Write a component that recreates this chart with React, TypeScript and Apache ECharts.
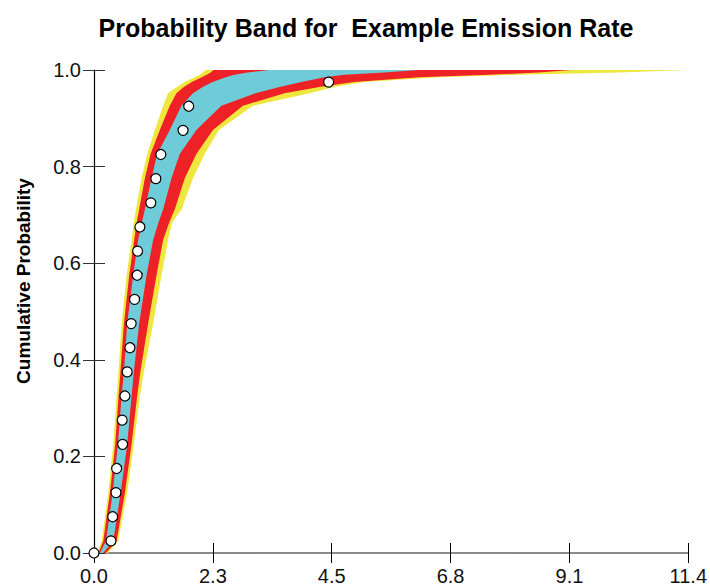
import React, { useEffect, useRef } from "react";
import * as echarts from "echarts";

// Cumulative probability levels used by the band boundaries
const bandProb = [0, 0.025, 0.125, 0.225, 0.325, 0.375, 0.475, 0.575, 0.648, 0.685, 0.711, 0.776, 0.826, 0.876, 0.926, 0.952, 0.965, 0.975, 0.985, 0.99, 0.995, 1.0];

// Band boundaries (emission rate at each probability level)
const yellowLeft = [0.057, 0.147, 0.274, 0.369, 0.434, 0.469, 0.530, 0.625, 0.721, 0.765, 0.803, 0.912, 1.020, 1.167, 1.326, 1.421, 1.588, 1.741, 1.932, 2.028, 2.085, 2.142];
const redLeft = [0.086, 0.178, 0.306, 0.407, 0.472, 0.507, 0.574, 0.675, 0.771, 0.819, 0.866, 0.976, 1.085, 1.262, 1.454, 1.582, 1.722, 1.875, 2.066, 2.161, 2.238, 2.295];
const cyanLeft = [0.115, 0.230, 0.358, 0.459, 0.530, 0.574, 0.637, 0.752, 0.847, 0.918, 0.976, 1.104, 1.211, 1.454, 1.678, 1.899, 2.085, 2.276, 2.525, 2.697, 2.946, 3.366];
const cyanRight = [0.172, 0.369, 0.511, 0.637, 0.721, 0.765, 0.866, 1.008, 1.134, 1.238, 1.326, 1.486, 1.645, 1.964, 2.443, 3.099, 3.558, 3.979, 4.418, 4.801, 5.566, 6.236];
const redRight = [0.230, 0.434, 0.593, 0.721, 0.828, 0.889, 1.039, 1.199, 1.326, 1.444, 1.549, 1.741, 1.964, 2.282, 2.856, 3.654, 4.323, 4.992, 6.236, 7.575, 8.531, 9.162];
const yellowRight = [0.268, 0.465, 0.637, 0.765, 0.880, 0.956, 1.134, 1.295, 1.421, 1.500, 1.680, 1.899, 2.123, 2.397, 3.047, 4.132, 4.610, 5.184, 6.618, 8.149, 10.061, 11.4];

// Observed points
const obsRate = [0, 0.325, 0.358, 0.421, 0.434, 0.549, 0.541, 0.593, 0.637, 0.689, 0.713, 0.778, 0.828, 0.836, 0.880, 1.090, 1.186, 1.282, 1.708, 1.817, 4.501];
const obsProb = [0, 0.025, 0.075, 0.125, 0.175, 0.225, 0.275, 0.325, 0.375, 0.425, 0.475, 0.525, 0.575, 0.625, 0.675, 0.725, 0.775, 0.825, 0.875, 0.925, 0.975];

const xTickLabels = ["0.0", "2.3", "4.5", "6.8", "9.1", "11.4"];
const yTickLabels = ["0.0", "0.2", "0.4", "0.6", "0.8", "1.0"];

const X_MAX = 11.4;
const X_INTERVAL = 2.28;
const FONT = "'Liberation Sans', Arial, Helvetica, sans-serif";

function bandSeries(name: string, left: number[], right: number[], color: string, z: number) {
  return {
    type: "custom",
    name,
    coordinateSystem: "cartesian2d",
    xAxisIndex: 0,
    yAxisIndex: 0,
    silent: true,
    z,
    data: [[0, 0]],
    renderItem: (_params: any, api: any) => {
      const pts: number[][] = [];
      for (let i = 0; i < bandProb.length; i++) pts.push(api.coord([left[i], bandProb[i]]));
      for (let i = bandProb.length - 1; i >= 0; i--) pts.push(api.coord([right[i], bandProb[i]]));
      return { type: "polygon", shape: { points: pts }, style: { fill: color } };
    },
  };
}

export default function App() {
  const ref = useRef<HTMLDivElement>(null);
  useEffect(() => {
    if (!ref.current) return;
    const chart = echarts.init(ref.current, undefined, { renderer: "svg" });
    const xBase = {
      type: "value",
      min: 0,
      max: X_MAX,
      interval: X_INTERVAL,
      splitLine: { show: false },
    };
    const yBase = {
      type: "value",
      min: 0,
      max: 1,
      interval: 0.2,
      splitLine: { show: false },
    };
    chart.setOption({
      animation: false,
      backgroundColor: "#ffffff",
      grid: { left: 94, right: 20, top: 70, bottom: 33, containLabel: false },
      graphic: [
        {
          type: "text",
          x: 366,
          y: 27.5,
          style: {
            text: "Probability Band for  Example Emission Rate",
            font: `bold 25px ${FONT}`,
            fill: "#000",
            align: "center",
            verticalAlign: "middle",
          },
        },
        {
          type: "text",
          x: 23,
          y: 281,
          rotation: Math.PI / 2,
          style: {
            text: "Cumulative Probability",
            font: `bold 19px ${FONT}`,
            fill: "#000",
            align: "center",
            verticalAlign: "middle",
          },
        },
      ],
      xAxis: [
        {
          ...xBase,
          position: "bottom",
          axisLine: { show: true, lineStyle: { color: "#666", width: 1.5 } },
          axisTick: { show: true, inside: false, length: 10, lineStyle: { color: "#000", width: 1 } },
          axisLabel: {
            margin: 13,
            fontSize: 20,
            fontFamily: FONT,
            color: "#111",
            formatter: (v: number) => xTickLabels[Math.round(v / X_INTERVAL)] ?? "",
          },
        },
        {
          ...xBase,
          position: "bottom",
          axisLine: { show: false },
          axisTick: { show: true, inside: true, length: 10, lineStyle: { color: "#000", width: 1 } },
          axisLabel: { show: false },
        },
      ],
      yAxis: [
        {
          ...yBase,
          position: "left",
          axisLine: { show: true, lineStyle: { color: "#000", width: 1.2 } },
          axisTick: { show: true, inside: false, length: 11, lineStyle: { color: "#333", width: 1 } },
          axisLabel: {
            margin: 13,
            fontSize: 20,
            fontFamily: FONT,
            color: "#111",
            formatter: (v: number) => yTickLabels[Math.round(v / 0.2)] ?? "",
          },
        },
        {
          ...yBase,
          position: "left",
          axisLine: { show: false },
          axisTick: { show: true, inside: true, length: 11, lineStyle: { color: "#333", width: 1 } },
          axisLabel: { show: false },
        },
      ],
      series: [
        bandSeries("yellow", yellowLeft, yellowRight, "#EFE73E", 1),
        bandSeries("red", redLeft, redRight, "#EE2226", 2),
        bandSeries("cyan", cyanLeft, cyanRight, "#6ECCD9", 3),
        {
          type: "scatter",
          name: "observed",
          z: 5,
          symbol: "circle",
          symbolSize: 10,
          itemStyle: { color: "#ffffff", borderColor: "#000", borderWidth: 1.2, opacity: 1 },
          data: obsRate.map((r, i) => [r, obsProb[i]]),
        },
      ],
    });
    return () => chart.dispose();
  }, []);
  return (
    <div
      ref={ref}
      style={{ position: "absolute", left: 0, top: 0, width: 710, height: 586, background: "#fff" }}
    />
  );
}
